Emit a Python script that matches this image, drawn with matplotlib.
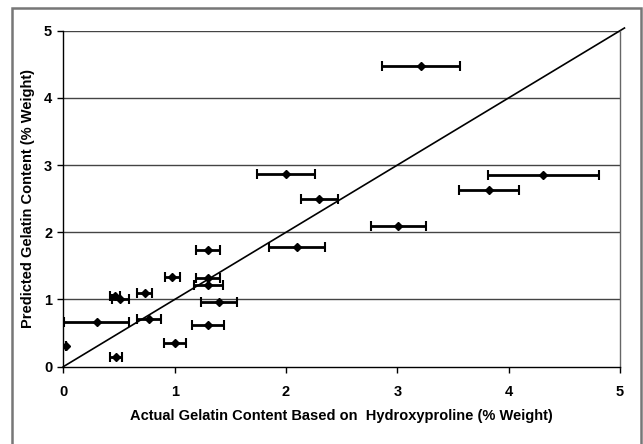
import matplotlib
matplotlib.use("Agg")
import matplotlib.pyplot as plt
from matplotlib.patches import Rectangle

actual = [3.21, 2.00, 2.30, 4.31, 3.82, 3.01, 2.10, 1.30, 0.98, 1.30, 1.30, 0.73,
          0.46, 0.51, 1.40, 0.30, 0.77, 1.30, 1.00, 0.475, 0.02]
predicted = [4.47, 2.87, 2.49, 2.85, 2.63, 2.09, 1.78, 1.73, 1.34, 1.32, 1.21, 1.10,
             1.05, 1.00, 0.97, 0.67, 0.71, 0.62, 0.35, 0.14, 0.31]
x_err = [0.35, 0.26, 0.165, 0.50, 0.27, 0.25, 0.25, 0.11, 0.07, 0.11, 0.13, 0.07,
         0.045, 0.077, 0.16, 0.29, 0.105, 0.145, 0.10, 0.055, 0.0]
ticks = [0, 1, 2, 3, 4, 5]
line_x = [0, 5.04]
line_y = [0, 5.04]

plt.rcParams['font.family'] = ['Liberation Sans', 'DejaVu Sans']

fig = plt.figure(figsize=(6.43, 4.44), dpi=100)
# outer frame
fig.patches.append(Rectangle((12/643, -0.05), (641-12)/643, 1.05 - 8/444,
                             transform=fig.transFigure, fill=False,
                             edgecolor='#777777', linewidth=1.8))
ax = fig.add_axes([63.3/643, 1-366.7/444, (620-63.3)/643, (366.7-30.7)/444])

for yv in ticks[1:]:
    ax.axhline(yv, color='#444444', linewidth=1.0, zorder=1)

ax.errorbar(actual, predicted, xerr=x_err, fmt='D', color='black', markersize=4,
            elinewidth=2.0, capsize=3.5, capthick=1.5, zorder=3)
ax.plot(line_x, line_y, color='black', linewidth=1.2, zorder=2, clip_on=False)

ax.set_xlim(0, 5)
ax.set_ylim(0, 5)
ax.set_xticks(ticks)
ax.set_yticks(ticks)
ax.set_xticklabels([str(t) for t in ticks], fontsize=10.5, fontweight='bold')
ax.set_yticklabels([str(t) for t in ticks], fontsize=10.5, fontweight='bold')
ax.tick_params(axis='both', direction='out', length=4, width=1)
ax.tick_params(axis='x', pad=9)
ax.tick_params(axis='y', pad=4)

for s in ['left', 'bottom']:
    ax.spines[s].set_color('black')
    ax.spines[s].set_linewidth(1.0)
ax.spines['top'].set_visible(False)
ax.spines['right'].set_color('#666666')
ax.spines['right'].set_linewidth(1.0)

ax.set_xlabel('Actual Gelatin Content Based on  Hydroxyproline (% Weight)',
              fontsize=10.5, fontweight='bold')
ax.set_ylabel('Predicted Gelatin Content (% Weight)',
              fontsize=10.5, fontweight='bold')
ax.xaxis.set_label_coords(0.5, (366.7 - 409) / 336)
ax.yaxis.set_label_coords((35 - 63.3) / 556.7, 0.5)

fig.savefig('out.png', dpi=100)
